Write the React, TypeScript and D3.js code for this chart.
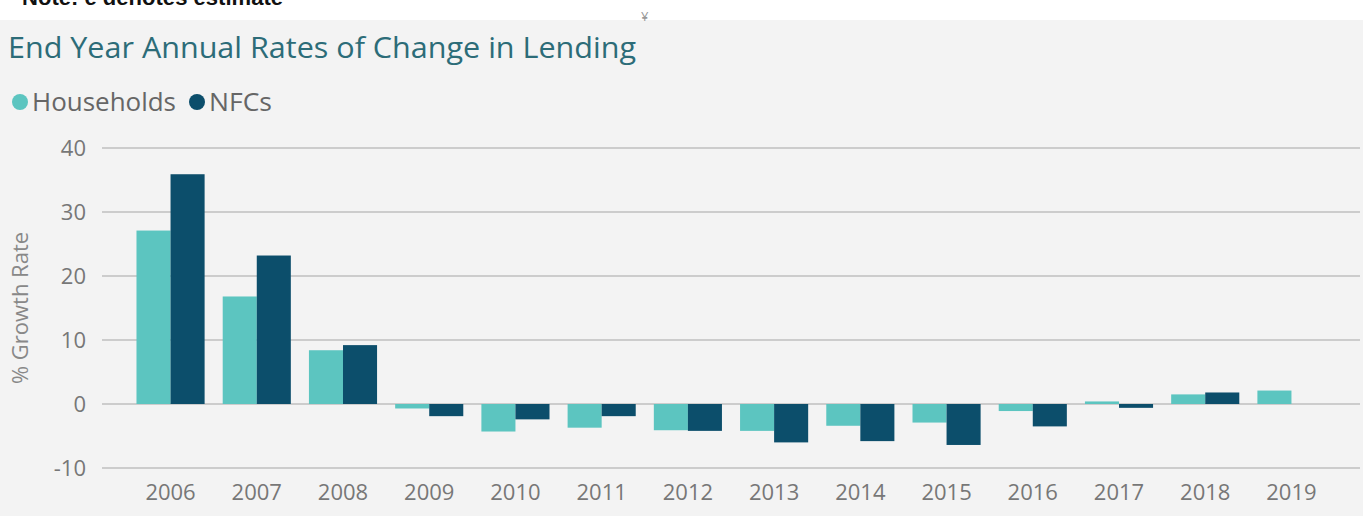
import * as d3 from "d3";

const years = ["2006", "2007", "2008", "2009", "2010", "2011", "2012", "2013", "2014", "2015", "2016", "2017", "2018", "2019"];
const households = [27.1, 16.8, 8.4, -0.7, -4.3, -3.7, -4.1, -4.2, -3.4, -2.9, -1.1, 0.4, 1.5, 2.1];
const nfcs: (number | null)[] = [35.9, 23.2, 9.2, -1.9, -2.4, -1.9, -4.2, -6.0, -5.8, -6.4, -3.5, -0.6, 1.8, null];
const yTicks = [-10, 0, 10, 20, 30, 40];
const seriesNames = ["Households", "NFCs"];
const colors = ["#5cc5c0", "#0c4e6b"];

const width = 1363;
const height = 516;
const font = "'Open Sans', 'Noto Sans', sans-serif";

export default function App() {
  const x = d3.scaleBand<string>().domain(years).range([102, 1360]).paddingInner(0.21).paddingOuter(0.4);
  const sub = d3.scaleBand<string>().domain(seriesNames).range([0, x.bandwidth()]);
  const y = d3.scaleLinear().domain([-10, 40]).range([468, 148]);

  const series = [households, nfcs];

  return (
    <svg width={width} height={height} style={{ position: "absolute", left: 0, top: 0 }} fontFamily={font}>
      <rect x={0} y={0} width={width} height={height} fill="#ffffff" />
      <rect x={0} y={20} width={width} height={height - 20} fill="#f3f3f3" />
      {/* note line, cut off at the top like the source */}
      <text x={22} y={5} fontSize={22} fontWeight="bold" fontFamily="'Liberation Sans', Arial, sans-serif" fill="#111" textLength={261} lengthAdjust="spacingAndGlyphs">
        Note: e denotes estimate
      </text>
      <text x={641} y={21} fontSize={13} fill="#999">¥</text>

      <text x={8} y={58} fontSize={30} fill="#2c6c78" textLength={628} lengthAdjust="spacingAndGlyphs">
        End Year Annual Rates of Change in Lending
      </text>

      {/* legend */}
      <g fontSize={25} fill="#666">
        <circle cx={20} cy={102} r={8} fill={colors[0]} />
        <text x={32} y={111} textLength={144} lengthAdjust="spacingAndGlyphs">Households</text>
        <circle cx={197} cy={102} r={8} fill={colors[1]} />
        <text x={209} y={111} textLength={63} lengthAdjust="spacingAndGlyphs">NFCs</text>
      </g>

      {/* gridlines + y labels */}
      <g>
        {yTicks.map((t) => (
          <g key={t}>
            <line x1={102} x2={1360} y1={y(t)} y2={y(t)} stroke="#cccccc" strokeWidth={2} />
            <text x={86} y={y(t)} dy="0.35em" textAnchor="end" fontSize={22} fill="#777">
              {t}
            </text>
          </g>
        ))}
      </g>
      <text transform={`translate(28,${308}) rotate(-90)`} textAnchor="middle" fontSize={22} fill="#888">
        % Growth Rate
      </text>

      {/* bars */}
      {series.map((vals, si) => (
        <g key={seriesNames[si]} fill={colors[si]}>
          {vals.map((v, i) =>
            v == null ? null : (
              <rect
                key={years[i]}
                x={(x(years[i]) ?? 0) + (sub(seriesNames[si]) ?? 0)}
                width={sub.bandwidth()}
                y={y(Math.max(0, v))}
                height={Math.abs(y(v) - y(0))}
              />
            )
          )}
        </g>
      ))}

      {/* x labels */}
      <g fontSize={22} fill="#777" textAnchor="middle">
        {years.map((yr) => (
          <text key={yr} x={(x(yr) ?? 0) + x.bandwidth() / 2} y={500}>
            {yr}
          </text>
        ))}
      </g>
    </svg>
  );
}
